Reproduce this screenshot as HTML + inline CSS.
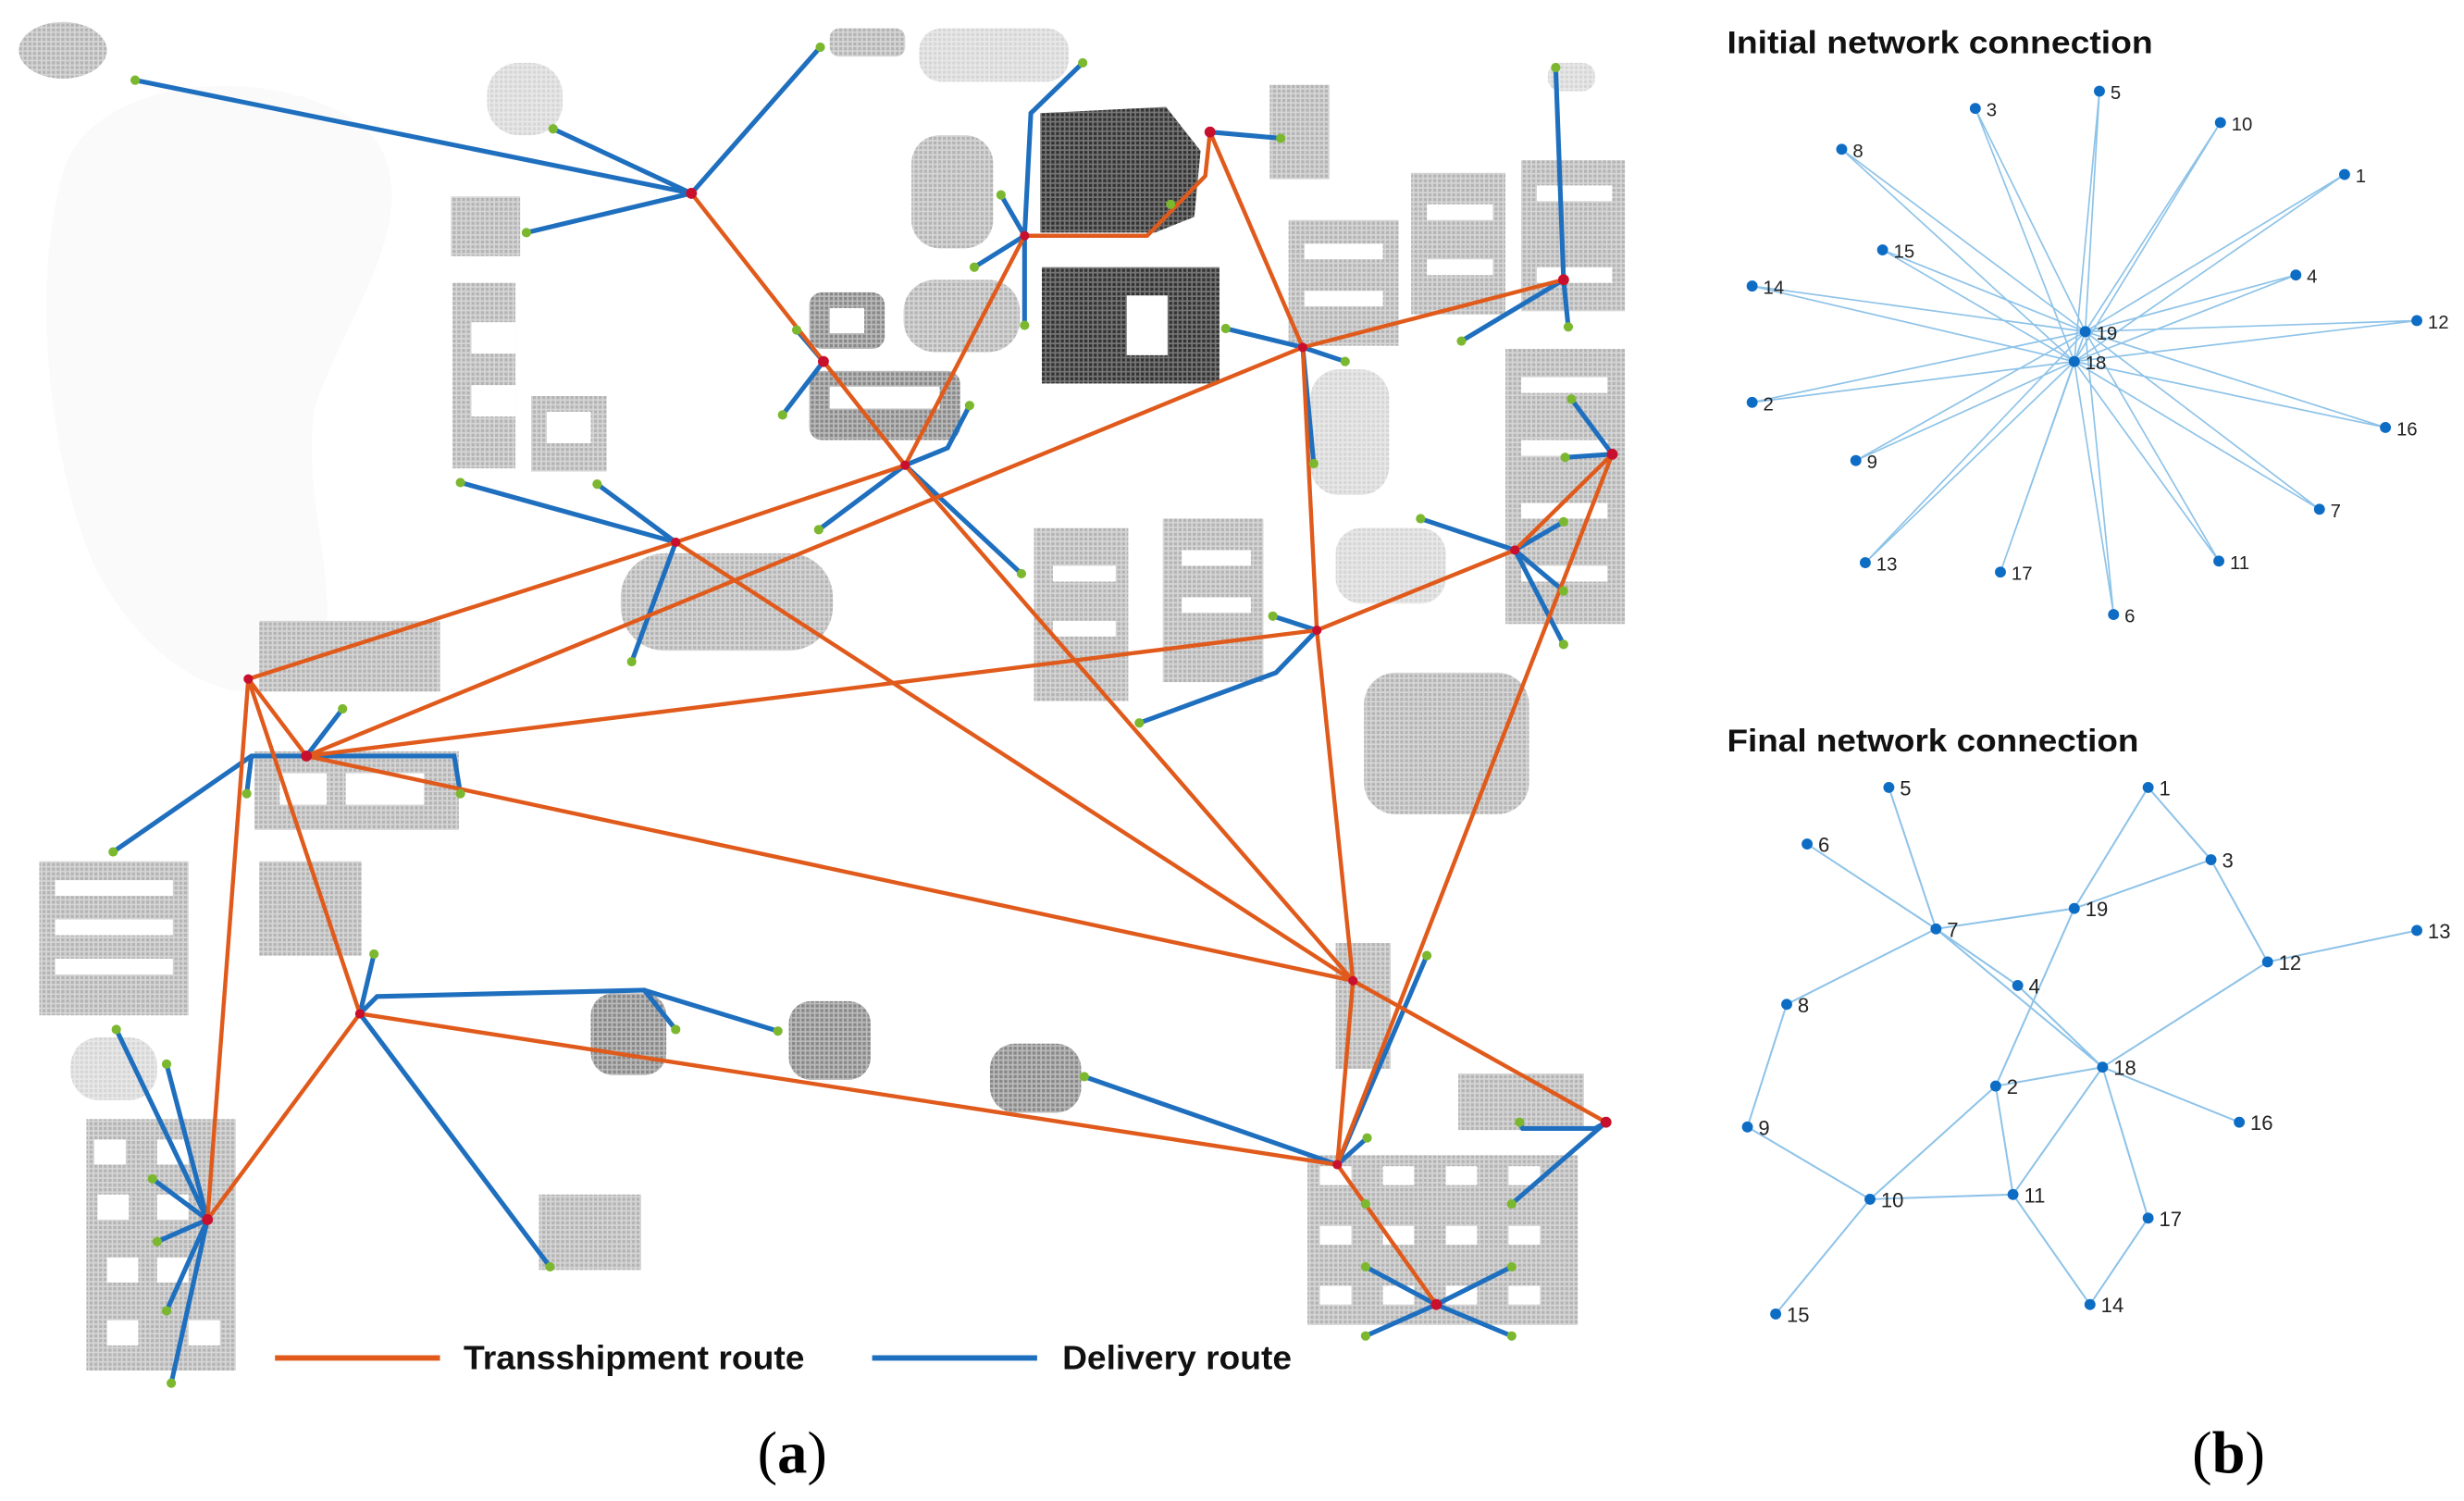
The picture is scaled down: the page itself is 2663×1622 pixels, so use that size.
<!DOCTYPE html>
<html><head><meta charset="utf-8"><style>html,body{margin:0;padding:0;background:#fff}svg{display:block}</style></head>
<body>
<svg width="2663" height="1622" viewBox="0 0 1568 955" preserveAspectRatio="none" xmlns="http://www.w3.org/2000/svg">
<defs>
<pattern id="g" width="3" height="3" patternUnits="userSpaceOnUse"><rect width="3" height="3" fill="#d6d6d6"/><rect width="2" height="2" fill="#b4b4b4"/></pattern>
<pattern id="gl" width="3" height="3" patternUnits="userSpaceOnUse"><rect width="3" height="3" fill="#e8e8e8"/><rect width="2" height="2" fill="#d6d6d6"/></pattern>
<pattern id="gd" width="3" height="3" patternUnits="userSpaceOnUse"><rect width="3" height="3" fill="#777"/><rect width="2" height="2" fill="#333"/></pattern>
<pattern id="gm" width="3" height="3" patternUnits="userSpaceOnUse"><rect width="3" height="3" fill="#bbb"/><rect width="2" height="2" fill="#888"/></pattern>
</defs>
<rect width="1568" height="955" fill="#fff"/>
<path d="M40,110 C60,40 200,40 240,90 C270,140 220,200 200,260 C190,330 230,400 190,430 C150,460 90,420 60,360 C30,290 20,180 40,110Z" fill="#fafafa"/>
<g fill="url(#g)">
<ellipse cx="40" cy="32" rx="28" ry="18"/>
<rect x="528" y="18" width="48" height="18" rx="6"/>
<rect x="287" y="125" width="44" height="38"/>
<rect x="288" y="180" width="40" height="118"/>
<rect x="338" y="252" width="48" height="48"/>
<rect x="580" y="86" width="52" height="72" rx="18"/>
<rect x="575" y="178" width="74" height="46" rx="20"/>
<rect x="808" y="54" width="38" height="60"/>
<rect x="820" y="140" width="70" height="80"/>
<rect x="898" y="110" width="60" height="90"/>
<rect x="968" y="102" width="66" height="96"/>
<rect x="958" y="222" width="76" height="175"/>
<rect x="395" y="352" width="135" height="62" rx="28"/>
<rect x="658" y="336" width="60" height="110"/>
<rect x="740" y="330" width="64" height="104"/>
<rect x="868" y="428" width="105" height="90" rx="20"/>
<rect x="165" y="395" width="115" height="45"/>
<rect x="162" y="478" width="130" height="50"/>
<rect x="25" y="548" width="95" height="98"/>
<rect x="165" y="548" width="65" height="60"/>
<rect x="55" y="712" width="95" height="160"/>
<rect x="343" y="760" width="65" height="48"/>
<rect x="850" y="600" width="35" height="80"/>
<rect x="928" y="683" width="80" height="36"/>
<rect x="832" y="735" width="172" height="108"/>
</g>
<g fill="url(#gm)">
<rect x="376" y="632" width="48" height="52" rx="14"/>
<rect x="502" y="637" width="52" height="50" rx="14"/>
<rect x="630" y="664" width="58" height="44" rx="16"/>
<rect x="515" y="186" width="48" height="36" rx="8"/>
<rect x="515" y="236" width="96" height="44" rx="8"/>
</g>
<g fill="url(#gl)">
<rect x="585" y="18" width="95" height="34" rx="14"/>
<rect x="310" y="40" width="48" height="46" rx="20"/>
<rect x="834" y="235" width="50" height="80" rx="18"/>
<rect x="850" y="336" width="70" height="48" rx="16"/>
<rect x="45" y="660" width="55" height="40" rx="18"/>
<rect x="985" y="40" width="30" height="18" rx="8"/>
</g>
<path d="M662,72 L742,68 L764,96 L760,138 L735,148 L662,148Z" fill="url(#gd)"/>
<rect x="663" y="170" width="113" height="74" fill="url(#gd)"/>
<rect x="717" y="188" width="26" height="38" fill="#fff"/>
<g fill="#fff">
<rect x="528" y="196" width="22" height="16"/><rect x="528" y="246" width="70" height="14"/>
<rect x="60" y="725" width="20" height="16"/><rect x="100" y="725" width="20" height="16"/>
<rect x="62" y="760" width="20" height="16"/><rect x="100" y="760" width="20" height="16"/>
<rect x="68" y="800" width="20" height="16"/><rect x="100" y="800" width="20" height="16"/>
<rect x="68" y="840" width="20" height="16"/><rect x="120" y="840" width="20" height="16"/>
<rect x="840" y="742" width="20" height="12"/><rect x="880" y="742" width="20" height="12"/><rect x="920" y="742" width="20" height="12"/><rect x="960" y="742" width="20" height="12"/>
<rect x="840" y="780" width="20" height="12"/><rect x="880" y="780" width="20" height="12"/><rect x="920" y="780" width="20" height="12"/><rect x="960" y="780" width="20" height="12"/>
<rect x="840" y="818" width="20" height="12"/><rect x="880" y="818" width="20" height="12"/><rect x="920" y="818" width="20" height="12"/><rect x="960" y="818" width="20" height="12"/>
<rect x="830" y="155" width="50" height="10"/><rect x="830" y="185" width="50" height="10"/>
<rect x="908" y="130" width="42" height="10"/><rect x="908" y="165" width="42" height="10"/>
<rect x="978" y="118" width="48" height="10"/><rect x="978" y="170" width="48" height="10"/>
<rect x="300" y="205" width="28" height="20"/><rect x="300" y="245" width="28" height="20"/>
<rect x="348" y="262" width="28" height="20"/>
<rect x="35" y="560" width="75" height="10"/><rect x="35" y="585" width="75" height="10"/><rect x="35" y="610" width="75" height="10"/>
<rect x="670" y="360" width="40" height="10"/><rect x="670" y="395" width="40" height="10"/>
<rect x="752" y="350" width="44" height="10"/><rect x="752" y="380" width="44" height="10"/>
<rect x="968" y="240" width="55" height="10"/><rect x="968" y="280" width="55" height="10"/><rect x="968" y="320" width="55" height="10"/><rect x="968" y="360" width="55" height="10"/>
<rect x="178" y="492" width="30" height="20"/><rect x="220" y="492" width="50" height="20"/>
</g>
<g stroke="#1f6fbf" stroke-width="3" fill="none" stroke-linecap="round">
<path d="M440,123 L86,51 M440,123 L522,30 M440,123 L352,82 M440,123 L335,148"/>
<path d="M652,150 L656,72 L689,40 M652,150 L637,124 M652,150 L620,170 M652,150 L652,207"/>
<path d="M770,84 L815,88"/>
<path d="M524,230 L498,264 M524,230 L507,210"/>
<path d="M576,296 L603,285 L617,258 M576,296 L521,337 M576,296 L650,365"/>
<path d="M430,345 L293,307 M430,345 L380,308 M430,345 L402,421"/>
<path d="M829,221 L780,209 M829,221 L856,230 M829,221 L836,295"/>
<path d="M995,178 L990,43 M995,178 L930,217 M995,178 L998,208"/>
<path d="M1026,289 L1000,254 M1026,289 L996,291"/>
<path d="M964,350 L904,330 M964,350 L995,332 M964,350 L995,376 M964,350 L995,410"/>
<path d="M838,401 L810,392 M838,401 L812,428 L725,460"/>
<path d="M195,481 L160,481 L72,542 M160,481 L157,505"/>
<path d="M195,481 L218,451 M195,481 L289,481 L293,505"/>
<path d="M229,645 L238,607 M229,645 L240,634 L410,630 L430,655 M410,630 L495,656 M229,645 L350,806"/>
<path d="M132,776 L74,655 M132,776 L106,677 M132,776 L97,750 M132,776 L100,790 M132,776 L106,834 M132,776 L109,880"/>
<path d="M851,741 L908,608 M851,741 L870,724 M851,741 L690,685"/>
<path d="M1022,714 L1015,718 L969,718 L967,714 M1022,714 L962,766"/>
<path d="M914,830 L869,806 M914,830 L962,806 M914,830 L869,850 M914,830 L962,850"/>
</g>
<g stroke="#e05a1c" stroke-width="2.6" fill="none" stroke-linecap="round" stroke-linejoin="round">
<path d="M440,123 L576,296"/>
<path d="M652,150 L730,150 L767,112 L770,84"/>
<path d="M652,150 L576,296"/>
<path d="M770,84 L829,221"/>
<path d="M829,221 L995,178"/>
<path d="M829,221 L838,401 L861,624"/>
<path d="M576,296 L430,345 L158,432"/>
<path d="M576,296 L861,624"/>
<path d="M430,345 L861,624"/>
<path d="M195,481 L829,221"/>
<path d="M195,481 L838,401 L964,350 L1026,289 L851,741"/>
<path d="M195,481 L861,624"/>
<path d="M158,432 L195,481"/>
<path d="M158,432 L229,645 L132,776 L158,432"/>
<path d="M229,645 L851,741"/>
<path d="M861,624 L851,741 L914,830"/>
<path d="M861,624 L1022,714"/>
</g>
<g fill="#c8102e">
<circle cx="440" cy="123" r="3.5"/><circle cx="770" cy="84" r="3.5"/><circle cx="652" cy="150" r="3"/><circle cx="524" cy="230" r="3.5"/><circle cx="576" cy="296" r="3"/><circle cx="829" cy="221" r="3"/><circle cx="995" cy="178" r="3.5"/><circle cx="1026" cy="289" r="3.5"/><circle cx="964" cy="350" r="3"/><circle cx="838" cy="401" r="3"/><circle cx="430" cy="345" r="3"/><circle cx="158" cy="432" r="3"/><circle cx="195" cy="481" r="3.5"/><circle cx="229" cy="645" r="3"/><circle cx="132" cy="776" r="3.5"/><circle cx="861" cy="624" r="3"/><circle cx="851" cy="741" r="3"/><circle cx="1022" cy="714" r="3.5"/><circle cx="914" cy="830" r="3.5"/>
</g>
<g fill="#7cb82f">
<circle cx="86" cy="51" r="3"/><circle cx="522" cy="30" r="3"/><circle cx="352" cy="82" r="3"/><circle cx="335" cy="148" r="3"/><circle cx="689" cy="40" r="3"/><circle cx="637" cy="124" r="3"/><circle cx="620" cy="170" r="3"/><circle cx="652" cy="207" r="3"/><circle cx="815" cy="88" r="3"/><circle cx="745" cy="130" r="3"/><circle cx="498" cy="264" r="3"/><circle cx="507" cy="210" r="3"/><circle cx="617" cy="258" r="3"/><circle cx="521" cy="337" r="3"/><circle cx="650" cy="365" r="3"/><circle cx="293" cy="307" r="3"/><circle cx="380" cy="308" r="3"/><circle cx="402" cy="421" r="3"/><circle cx="780" cy="209" r="3"/><circle cx="856" cy="230" r="3"/><circle cx="836" cy="295" r="3"/><circle cx="990" cy="43" r="3"/><circle cx="930" cy="217" r="3"/><circle cx="998" cy="208" r="3"/><circle cx="1000" cy="254" r="3"/><circle cx="996" cy="291" r="3"/><circle cx="904" cy="330" r="3"/><circle cx="995" cy="332" r="3"/><circle cx="995" cy="376" r="3"/><circle cx="995" cy="410" r="3"/><circle cx="810" cy="392" r="3"/><circle cx="725" cy="460" r="3"/><circle cx="72" cy="542" r="3"/><circle cx="157" cy="505" r="3"/><circle cx="218" cy="451" r="3"/><circle cx="293" cy="505" r="3"/><circle cx="238" cy="607" r="3"/><circle cx="430" cy="655" r="3"/><circle cx="495" cy="656" r="3"/><circle cx="350" cy="806" r="3"/><circle cx="74" cy="655" r="3"/><circle cx="106" cy="677" r="3"/><circle cx="97" cy="750" r="3"/><circle cx="100" cy="790" r="3"/><circle cx="106" cy="834" r="3"/><circle cx="109" cy="880" r="3"/><circle cx="908" cy="608" r="3"/><circle cx="870" cy="724" r="3"/><circle cx="690" cy="685" r="3"/><circle cx="869" cy="766" r="3"/><circle cx="967" cy="714" r="3"/><circle cx="962" cy="766" r="3"/><circle cx="869" cy="806" r="3"/><circle cx="962" cy="806" r="3"/><circle cx="869" cy="850" r="3"/><circle cx="962" cy="850" r="3"/>
</g>
<line x1="175" y1="864" x2="280" y2="864" stroke="#e05a1c" stroke-width="3.5"/>
<text x="295" y="871" font-family="Liberation Sans, sans-serif" font-weight="bold" font-size="21" fill="#111" textLength="217" lengthAdjust="spacingAndGlyphs">Transshipment route</text>
<line x1="555" y1="864" x2="660" y2="864" stroke="#1f6fbf" stroke-width="3.5"/>
<text x="676" y="871" font-family="Liberation Sans, sans-serif" font-weight="bold" font-size="21" fill="#111" textLength="146" lengthAdjust="spacingAndGlyphs">Delivery route</text>
<text x="482" y="937" font-family="Liberation Serif, serif" font-size="38" fill="#000">(<tspan font-weight="bold">a</tspan>)</text>
<text x="1395" y="937" font-family="Liberation Serif, serif" font-size="38" fill="#000">(<tspan font-weight="bold">b</tspan>)</text>
<text x="1099" y="34" font-family="Liberation Sans, sans-serif" font-weight="bold" font-size="20" fill="#111" textLength="271" lengthAdjust="spacingAndGlyphs">Initial network connection</text>
<g stroke="#8ec3e8" stroke-width="1">
<path d="M1327,211L1257,69M1320,230L1257,69M1327,211L1336,58M1320,230L1336,58M1327,211L1413,78M1320,230L1413,78M1327,211L1172,95M1320,230L1172,95M1327,211L1492,111M1320,230L1492,111M1327,211L1198,159M1320,230L1198,159M1327,211L1461,175M1320,230L1461,175M1327,211L1115,182M1320,230L1115,182M1327,211L1538,204M1320,230L1538,204M1327,211L1115,256M1320,230L1115,256M1327,211L1518,272M1320,230L1518,272M1327,211L1181,293M1320,230L1181,293M1327,211L1476,324M1320,230L1476,324M1327,211L1187,358M1320,230L1187,358M1327,211L1273,364M1320,230L1273,364M1327,211L1412,357M1320,230L1412,357M1327,211L1345,391M1320,230L1345,391M1327,211L1320,230"/>
</g>
<g fill="#0d6cc4">
<circle cx="1327" cy="211" r="3.5"/><circle cx="1320" cy="230" r="3.5"/><circle cx="1257" cy="69" r="3.5"/><circle cx="1336" cy="58" r="3.5"/><circle cx="1413" cy="78" r="3.5"/><circle cx="1172" cy="95" r="3.5"/><circle cx="1492" cy="111" r="3.5"/><circle cx="1198" cy="159" r="3.5"/><circle cx="1461" cy="175" r="3.5"/><circle cx="1115" cy="182" r="3.5"/><circle cx="1538" cy="204" r="3.5"/><circle cx="1115" cy="256" r="3.5"/><circle cx="1518" cy="272" r="3.5"/><circle cx="1181" cy="293" r="3.5"/><circle cx="1476" cy="324" r="3.5"/><circle cx="1187" cy="358" r="3.5"/><circle cx="1273" cy="364" r="3.5"/><circle cx="1412" cy="357" r="3.5"/><circle cx="1345" cy="391" r="3.5"/>
</g>
<g font-family="Liberation Sans, sans-serif" font-size="12" fill="#222">
<text x="1334" y="216">19</text><text x="1327" y="235">18</text><text x="1264" y="74">3</text><text x="1343" y="63">5</text><text x="1420" y="83">10</text><text x="1179" y="100">8</text><text x="1499" y="116">1</text><text x="1205" y="164">15</text><text x="1468" y="180">4</text><text x="1122" y="187">14</text><text x="1545" y="209">12</text><text x="1122" y="261">2</text><text x="1525" y="277">16</text><text x="1188" y="298">9</text><text x="1483" y="329">7</text><text x="1194" y="363">13</text><text x="1280" y="369">17</text><text x="1419" y="362">11</text><text x="1352" y="396">6</text>
</g>
<text x="1099" y="478" font-family="Liberation Sans, sans-serif" font-weight="bold" font-size="20" fill="#111" textLength="262" lengthAdjust="spacingAndGlyphs">Final network connection</text>
<g stroke="#8ec3e8" stroke-width="1.2">
<path d="M1202,501L1232,591M1150,537L1232,591M1232,591L1320,578M1232,591L1137,639M1232,591L1284,627M1232,591L1338,679M1284,627L1338,679M1320,578L1367,501M1320,578L1407,547M1367,501L1407,547M1407,547L1443,612M1443,612L1538,592M1443,612L1338,679M1320,578L1270,691M1270,691L1338,679M1270,691L1190,763M1270,691L1281,760M1338,679L1281,760M1338,679L1425,714M1338,679L1367,775M1367,775L1330,830M1281,760L1330,830M1190,763L1281,760M1190,763L1130,836M1112,717L1190,763M1137,639L1112,717"/>
</g>
<g fill="#0d6cc4">
<circle cx="1202" cy="501" r="3.5"/><circle cx="1367" cy="501" r="3.5"/><circle cx="1150" cy="537" r="3.5"/><circle cx="1407" cy="547" r="3.5"/><circle cx="1320" cy="578" r="3.5"/><circle cx="1232" cy="591" r="3.5"/><circle cx="1443" cy="612" r="3.5"/><circle cx="1538" cy="592" r="3.5"/><circle cx="1284" cy="627" r="3.5"/><circle cx="1137" cy="639" r="3.5"/><circle cx="1338" cy="679" r="3.5"/><circle cx="1270" cy="691" r="3.5"/><circle cx="1425" cy="714" r="3.5"/><circle cx="1112" cy="717" r="3.5"/><circle cx="1190" cy="763" r="3.5"/><circle cx="1281" cy="760" r="3.5"/><circle cx="1367" cy="775" r="3.5"/><circle cx="1330" cy="830" r="3.5"/><circle cx="1130" cy="836" r="3.5"/>
</g>
<g font-family="Liberation Sans, sans-serif" font-size="13" fill="#222">
<text x="1209" y="506">5</text><text x="1374" y="506">1</text><text x="1157" y="542">6</text><text x="1414" y="552">3</text><text x="1327" y="583">19</text><text x="1239" y="596">7</text><text x="1450" y="617">12</text><text x="1545" y="597">13</text><text x="1291" y="632">4</text><text x="1144" y="644">8</text><text x="1345" y="684">18</text><text x="1277" y="696">2</text><text x="1432" y="719">16</text><text x="1119" y="722">9</text><text x="1197" y="768">10</text><text x="1288" y="765">11</text><text x="1374" y="780">17</text><text x="1337" y="835">14</text><text x="1137" y="841">15</text>
</g>
</svg>
</body></html>
